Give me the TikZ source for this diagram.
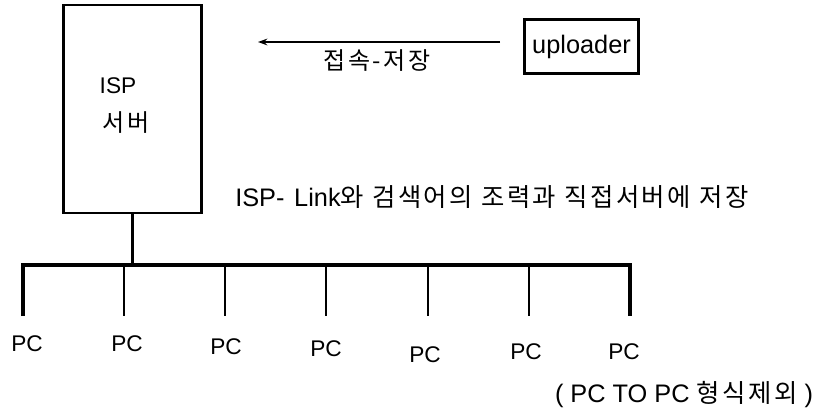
\documentclass[tikz,border=0pt]{standalone}
\usepackage{fontspec}
\setmainfont{Liberation Sans}
\newfontfamily\kr[LetterSpace=10]{Noto Sans CJK KR}
\usetikzlibrary{positioning, arrows.meta}

\begin{document}
\begin{tikzpicture}[
x=0.75pt, y=-0.75pt,
box/.style={rectangle, draw, line width=2.2pt, inner sep=0pt},
lbl/.style={font=\fontsize{17}{20}\selectfont, inner sep=0pt},
krlbl/.style={font=\kr\fontsize{18}{20}\selectfont, inner sep=0pt},
wire/.style={line width=2.2pt},
]
\useasboundingbox (0,0) rectangle (821,417);

% Boxes
\node[box, minimum width=104pt, minimum height=156pt] (server) at (132.5,109) {};
\node[box, minimum width=86pt, minimum height=40pt, font=\fontsize{19}{22}\selectfont] (uploader) at (581.5,46.5) {uploader};

% Server text
\node[lbl] (isp) at (118,86) {ISP};
\node[krlbl] (srvname) at (126,123) {서버};

% Arrow
\coordinate (arrS) at (500,42);
\coordinate (arrE) at (258,42);
\draw[-{Stealth[length=7pt, width=5pt]}, line width=1.6pt] (arrS) -- (arrE);
\node[krlbl] (save) at (377,61) {접속-저장};

% Link text
\node[lbl, anchor=west, font=\fontsize{19}{22}\selectfont] (linktxt) at (235,197) {ISP-\hspace{2pt} Link{\kr 와 검색어의 조력과 직접서버에 저장}};

% PCs
\foreach \i/\x/\lx/\ly in {1/23/27/344, 2/124/127/344, 3/225/226/347, 4/326/326/349, 5/428/425/355, 6/529/526/352, 7/630/624/352} {
  \coordinate (tap\i) at (\x,265);
  \coordinate (end\i) at (\x,316);
  \node[lbl] (pc\i) at (\lx,\ly) {PC};
}

% Bus
\draw[wire] (server.south) -- (server.south |- tap1);
\draw[line width=2.6pt] (end1) -- (tap1) -- (tap7) -- (end7);
\foreach \i in {2,...,6} \draw[wire] (tap\i) -- (end\i);

\node[lbl, font=\fontsize{19}{22}\selectfont] (note) at (684,395) {( PC TO PC {\kr\fontsize{19}{22}\selectfont 형식제외} )};

\end{tikzpicture}
\end{document}
